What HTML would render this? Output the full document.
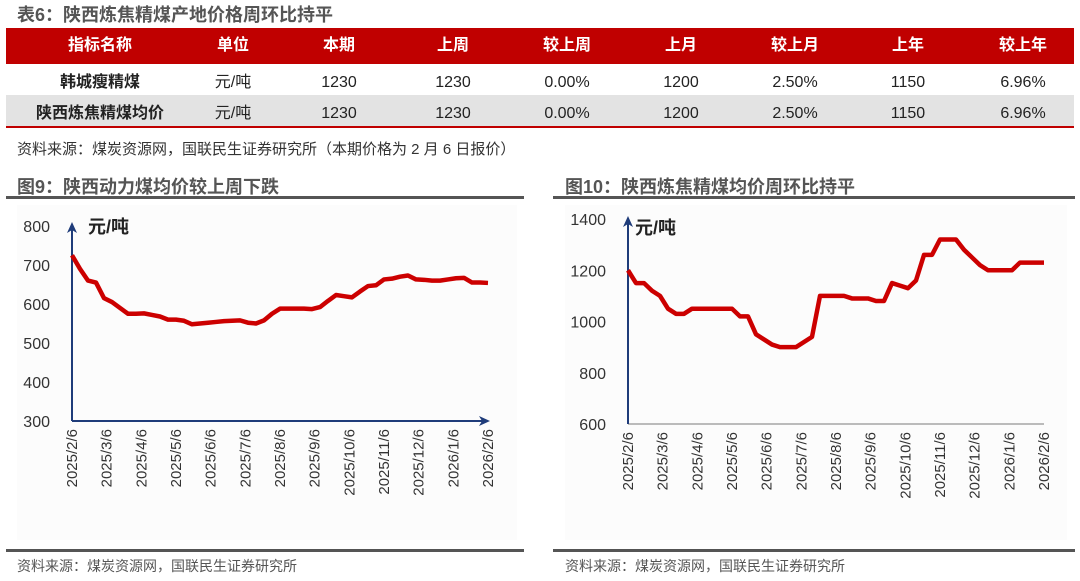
<!DOCTYPE html>
<html><head><meta charset="utf-8">
<style>
body{margin:0;width:1080px;height:581px;background:#fff;position:relative;overflow:hidden;font-family:"Liberation Sans","Noto Sans CJK SC",sans-serif;color:#222}
.abs{position:absolute}
.t{font-weight:bold;font-size:18px;color:#555;white-space:nowrap}
.row{position:absolute;left:6px;width:1068px;height:32px}
.c{position:absolute;top:0;height:100%;line-height:32px;text-align:center;font-size:16px;width:130px;transform:translateX(-65px);white-space:nowrap}
.src{font-size:14px;color:#555;white-space:nowrap}
</style></head><body>
<div class="abs t" style="left:17px;top:1px;color:#555">表6：陕西炼焦精煤产地价格周环比持平</div>
<div class="row" style="top:28px;height:36px;background:#c00000;color:#fff;font-weight:bold">
<div class="c" style="left:94px;line-height:36px">指标名称</div><div class="c" style="left:227px;line-height:36px">单位</div><div class="c" style="left:333px;line-height:36px">本期</div><div class="c" style="left:447px;line-height:36px">上周</div><div class="c" style="left:561px;line-height:36px">较上周</div><div class="c" style="left:675px;line-height:36px">上月</div><div class="c" style="left:789px;line-height:36px">较上月</div><div class="c" style="left:902px;line-height:36px">上年</div><div class="c" style="left:1017px;line-height:36px">较上年</div></div>
<div class="row" style="top:64px;height:31px">
<div class="c" style="left:94px;font-weight:bold;line-height:38px">韩城瘦精煤</div><div class="c" style="left:227px;line-height:38px">元/吨</div><div class="c" style="left:333px;line-height:38px">1230</div><div class="c" style="left:447px;line-height:38px">1230</div><div class="c" style="left:561px;line-height:38px">0.00%</div><div class="c" style="left:675px;line-height:38px">1200</div><div class="c" style="left:789px;line-height:38px">2.50%</div><div class="c" style="left:902px;line-height:38px">1150</div><div class="c" style="left:1017px;line-height:38px">6.96%</div></div>
<div class="row" style="top:95px;height:31px;background:#e3e3e3;border-bottom:2px solid #c00000">
<div class="c" style="left:94px;font-weight:bold;line-height:38px">陕西炼焦精煤均价</div><div class="c" style="left:227px;line-height:38px">元/吨</div><div class="c" style="left:333px;line-height:38px">1230</div><div class="c" style="left:447px;line-height:38px">1230</div><div class="c" style="left:561px;line-height:38px">0.00%</div><div class="c" style="left:675px;line-height:38px">1200</div><div class="c" style="left:789px;line-height:38px">2.50%</div><div class="c" style="left:902px;line-height:38px">1150</div><div class="c" style="left:1017px;line-height:38px">6.96%</div></div>
<div class="abs src" style="left:17px;top:138px;color:#333;font-size:15px">资料来源：煤炭资源网，国联民生证券研究所（本期价格为 2 月 6 日报价）</div>

<div class="abs t" style="left:17px;top:173px">图9：陕西动力煤均价较上周下跌</div>
<div class="abs" style="left:6px;top:196px;width:518px;height:3px;background:#555"></div>
<div class="abs t" style="left:565px;top:173px">图10：陕西炼焦精煤均价周环比持平</div>
<div class="abs" style="left:553px;top:196px;width:522px;height:3px;background:#555"></div>

<svg class="abs" style="left:0;top:0" width="1080" height="581" id="svg">
<rect x="17" y="205" width="500" height="335" fill="#fcfcfc"/>
<rect x="565" y="205" width="502" height="335" fill="#fcfcfc"/>
</svg>

<div class="abs" style="left:6px;top:549px;width:518px;height:3px;background:#555"></div>
<div class="abs src" style="left:17px;top:556px">资料来源：煤炭资源网，国联民生证券研究所</div>
<div class="abs" style="left:553px;top:549px;width:522px;height:3px;background:#555"></div>
<div class="abs src" style="left:565px;top:556px">资料来源：煤炭资源网，国联民生证券研究所</div>

<script>
const xLabels=["2025/2/6","2025/3/6","2025/4/6","2025/5/6","2025/6/6","2025/7/6","2025/8/6","2025/9/6","2025/10/6","2025/11/6","2025/12/6","2026/1/6","2026/2/6"];
const leftTicks=[300,400,500,600,700,800];
const rightTicks=[600,800,1000,1200,1400];
const leftValues=[725,690,660,655,615,605,590,575,575,576,572,568,560,560,557,548,550,552,554,556,557,558,552,550,558,575,588,588,588,588,587,592,608,623,620,617,632,646,648,663,665,670,673,663,662,660,660,663,666,667,655,655,654];
const rightValues=[1200,1150,1150,1120,1100,1050,1030,1030,1050,1050,1050,1050,1050,1050,1020,1020,950,930,910,900,900,900,920,940,1100,1100,1100,1100,1090,1090,1090,1080,1080,1150,1140,1130,1160,1260,1260,1320,1320,1320,1280,1250,1220,1200,1200,1200,1200,1230,1230,1230,1230];
const NS='http://www.w3.org/2000/svg';
const svg=document.getElementById('svg');
function mk(tag,attrs,text){const e=document.createElementNS(NS,tag);for(const k in attrs)e.setAttribute(k,attrs[k]);if(text!==undefined)e.textContent=text;svg.appendChild(e);return e;}
function chart(cfg,values,ticks,id){
  const Y=v=>cfg.y0-(v-cfg.vmin)/(cfg.vmax-cfg.vmin)*(cfg.y0-cfg.y1);
  const X=i=>cfg.x0+i/(values.length-1)*(cfg.x1-cfg.x0);
  const XL=i=>cfg.x0+i/(xLabels.length-1)*(cfg.x1-cfg.x0);
  ticks.forEach(t=>{const e=mk('text',{x:cfg.x0-22,y:Y(t)+6,'text-anchor':'end','font-size':16,fill:'#333','font-family':'Liberation Sans, sans-serif'},t);
    });
  xLabels.forEach((l,i)=>{const x=XL(i)+5,y=cfg.y0+8;const e=mk('text',{x:x,y:y,'text-anchor':'end','font-size':15,fill:'#333',transform:`rotate(-90 ${x} ${y})`,'font-family':'Liberation Sans, sans-serif'},l);
    });
  const xa=mk('line',{x1:cfg.x0,y1:cfg.y0,x2:cfg.xa,y2:cfg.y0,stroke:cfg.xcol,'stroke-width':2});
  
  if(cfg.xArrow)mk('polygon',{points:`${cfg.xa+6},${cfg.y0} ${cfg.xa-5},${cfg.y0-5} ${cfg.xa-2},${cfg.y0} ${cfg.xa-5},${cfg.y0+5}`,fill:'#1f3c7a'});
  const ya=mk('line',{x1:cfg.x0,y1:cfg.y0,x2:cfg.x0,y2:cfg.ya,stroke:'#1f3c7a','stroke-width':2});
  
  mk('polygon',{points:`${cfg.x0},${cfg.ya-6} ${cfg.x0-5},${cfg.ya+5} ${cfg.x0},${cfg.ya+2} ${cfg.x0+5},${cfg.ya+5}`,fill:'#1f3c7a'});
  const u=mk('text',{x:cfg.ux,y:cfg.uy,'font-size':18,'font-weight':'bold',fill:'#222','font-family':'Liberation Sans, Noto Sans CJK SC, sans-serif'},'元/吨');
  
  const p=mk('polyline',{points:values.map((v,i)=>X(i)+','+Y(v)).join(' '),fill:'none',stroke:'#cc0000','stroke-width':4.5,'stroke-linejoin':'round'});
  
}
chart({x0:72,x1:488,xa:484,y0:421,y1:226,vmin:300,vmax:800,ya:228,ux:88,uy:233,xcol:'#1f3c7a',xArrow:true},leftValues,leftTicks,'fig9');
chart({x0:628,x1:1044,xa:1044,y0:424,y1:219,vmin:600,vmax:1400,ya:222,ux:635,uy:234,xcol:'#bbbbbb',xArrow:false},rightValues,rightTicks,'fig10');
</script>
</body></html>
